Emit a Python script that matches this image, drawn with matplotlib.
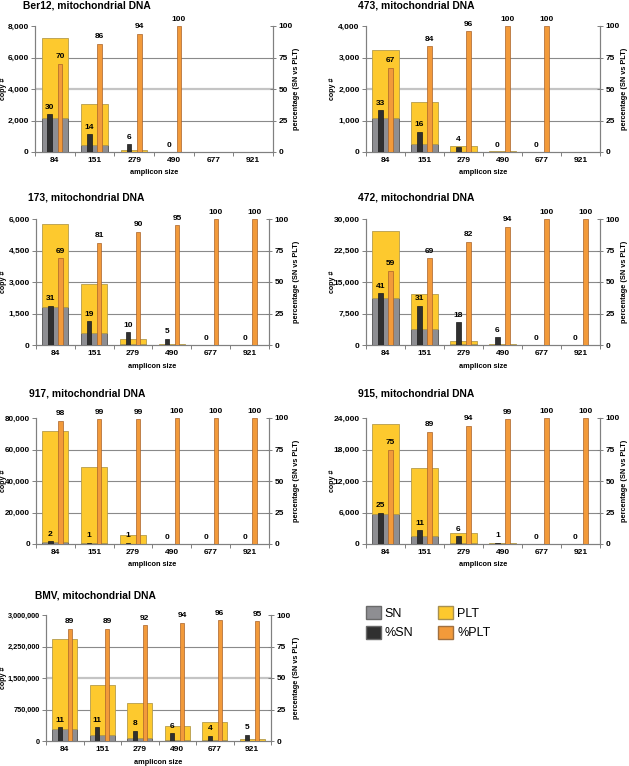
import numpy as np
import matplotlib.pyplot as plt
from matplotlib.patches import Patch
from matplotlib.ticker import FuncFormatter

plt.rcParams['font.family'] = ['Liberation Sans', 'DejaVu Sans']

nan = np.nan
amplicons = ['84', '151', '279', '490', '677', '921']

titles = ['Ber12, mitochondrial DNA', '473, mitochondrial DNA',
          '173, mitochondrial DNA', '472, mitochondrial DNA',
          '917, mitochondrial DNA', '915, mitochondrial DNA',
          'BMV, mitochondrial DNA']

# copy # : SN at the bottom, PLT stacked on top
sn_copies = [
    [2180, 430, 9, 0, nan, nan],
    [1075, 255, 8, 0, 0, nan],
    [1790, 550, 27, 3, 0, 0],
    [11100, 3790, 180, 15, 0, 0],
    [1440, 490, 57, 0, 0, 0],
    [5730, 1600, 122, 2, 0, 0],
    [280000, 148000, 73000, 21000, 18000, 3000],
]
plt_copies = [
    [5070, 2620, 141, 2, nan, nan],
    [2175, 1320, 192, 25, 2, nan],
    [3970, 2350, 243, 57, 1, 1],
    [16000, 8410, 820, 235, 2, 2],
    [70560, 48710, 5670, 300, 5, 5],
    [17170, 12950, 1918, 198, 80, 5],
    [2150000, 1177000, 840000, 336000, 442000, 52000],
]
# percentage (SN vs PLT)
pct_sn = [
    [30, 14, 6, 0, nan, nan],
    [33, 16, 4, 0, 0, nan],
    [31, 19, 10, 5, 0, 0],
    [41, 31, 18, 6, 0, 0],
    [2, 1, 1, 0, 0, 0],
    [25, 11, 6, 1, 0, 0],
    [11, 11, 8, 6, 4, 5],
]
pct_plt = [
    [70, 86, 94, 100, nan, nan],
    [67, 84, 96, 100, 100, nan],
    [69, 81, 90, 95, 100, 100],
    [59, 69, 82, 94, 100, 100],
    [98, 99, 99, 100, 100, 100],
    [75, 89, 94, 99, 100, 100],
    [89, 89, 92, 94, 96, 95],
]
y_max = [8000, 4000, 6000, 30000, 80000, 24000, 3000000]

W, H = 629, 766
# panel boxes in pixels: left, top, right, bottom
boxes = [(35, 26, 273, 152), (366, 26, 600, 152),
         (36, 219, 269, 345), (366, 219, 600, 345),
         (36, 418, 269, 544), (366, 418, 600, 544),
         (46, 615, 271, 741)]
title_pos = [(23, 6), (358, 6), (28, 197), (358, 197), (29, 394), (358, 394), (35, 595)]
light_mid = [True, True, False, False, False, False, True]
ytick_size = [6, 6, 6, 6, 5.8, 6, 5.3]

c_sn, c_psn = '#8e8e92', '#303030'
c_plt, c_pplt = '#fdc92e', '#f29a3a'
spine_c = '#808080'

fig = plt.figure(figsize=(W / 100, H / 100), dpi=100)

for i in range(7):
    l, t, r, b = boxes[i]
    ax = fig.add_axes([l / W, 1 - b / H, (r - l) / W, (b - t) / H])
    x = np.arange(len(amplicons))
    sn = np.array(sn_copies[i], dtype=float)
    pl = np.array(plt_copies[i], dtype=float)
    ax.bar(x, sn, 0.67, color=c_sn, edgecolor='#505050', lw=0.6, zorder=2)
    ax.bar(x, pl, 0.67, bottom=sn, color=c_plt, edgecolor='#b59c4c', lw=0.6, zorder=2)

    ax.set_xlim(-0.5, 5.5)
    ax.set_ylim(0, y_max[i])
    ticks = np.linspace(0, y_max[i], 5)
    ax.set_yticks(ticks)
    ax.yaxis.set_major_formatter(FuncFormatter(lambda v, p: f'{v:,.0f}'))
    for k, v in enumerate(ticks[1:4]):
        if light_mid[i] and k == 1:
            ax.axhline(v, color='#c4c4c4', lw=1.6, zorder=1)
        else:
            ax.axhline(v, color='#8a8a8a', lw=0.8, zorder=1)
    ax.set_xticks(x, amplicons)
    ax.set_xticks(np.arange(-0.5, 6, 1), minor=True)
    ax.tick_params(axis='x', which='major', length=0, pad=3.5, labelsize=6)
    ax.tick_params(axis='x', which='minor', length=3, color=spine_c, width=0.7)
    ax.tick_params(axis='y', length=3, pad=1.5, color=spine_c, width=0.7,
                   labelsize=ytick_size[i])
    for lab in ax.get_xticklabels() + ax.get_yticklabels():
        lab.set_fontweight('bold')

    ax2 = ax.twinx()
    ax2.bar(x - 0.13, pct_sn[i], 0.11, color=c_psn, edgecolor='#1a1a1a', lw=0.5, zorder=3)
    ax2.bar(x + 0.13, pct_plt[i], 0.11, color=c_pplt, edgecolor='#a8622a', lw=0.5, zorder=3)
    ax2.set_ylim(0, 100)
    ax2.set_yticks([0, 25, 50, 75, 100])
    ax2.tick_params(axis='y', direction='inout', length=4, pad=2, color=spine_c,
                    width=0.7, labelsize=6)
    for lab in ax2.get_yticklabels():
        lab.set_fontweight('bold')
    for xi, v in zip(x, pct_sn[i]):
        if not np.isnan(v):
            ax2.annotate(f'{int(v)}', (xi - 0.13, v), xytext=(0, 2.5), textcoords='offset points',
                         ha='center', va='bottom', fontsize=6, fontweight='bold')
    for xi, v in zip(x, pct_plt[i]):
        if not np.isnan(v):
            ax2.annotate(f'{int(v)}', (xi + 0.13, v), xytext=(0, 2.5), textcoords='offset points',
                         ha='center', va='bottom', fontsize=6, fontweight='bold')

    for a in (ax, ax2):
        a.spines['top'].set_visible(False)
        for s in ('left', 'right', 'bottom'):
            a.spines[s].set_color(spine_c)
            a.spines[s].set_linewidth(0.8)

    # titles and axis labels
    fig.text(title_pos[i][0] / W, 1 - title_pos[i][1] / H, titles[i], fontsize=7.4,
             fontweight='bold', ha='left', va='center')
    fig.text((l + r) / 2 / W, 1 - (b + 21) / H, 'amplicon size', fontsize=5.3,
             fontweight='bold', ha='center', va='center')
    cx = 3.5 if l < 300 else 332
    px = 296 if l < 300 else 624
    fig.text(cx / W, 1 - (t + b) / 2 / H, 'copy #', fontsize=5.1, fontweight='bold',
             rotation=90, ha='center', va='center')
    fig.text(px / W, 1 - (t + b) / 2 / H, 'percentage (SN vs PLT)', fontsize=5.3,
             fontweight='bold', rotation=90, ha='center', va='center')

handles = [Patch(facecolor=c_sn, edgecolor='#6a6a6a'),
           Patch(facecolor=c_psn, edgecolor='#6a6a6a'),
           Patch(facecolor=c_plt, edgecolor='#a89050'),
           Patch(facecolor=c_pplt, edgecolor='#a07040')]
fig.legend(handles, ['SN', '%SN', 'PLT', '%PLT'], ncol=2, loc='upper left',
           bbox_to_anchor=(366 / W, 1 - 606 / H), frameon=False, fontsize=9,
           handlelength=1.2, handleheight=1.2, handletextpad=0.3,
           columnspacing=2.0, labelspacing=0.5, borderpad=0, borderaxespad=0)

fig.savefig('out.png', dpi=100)
